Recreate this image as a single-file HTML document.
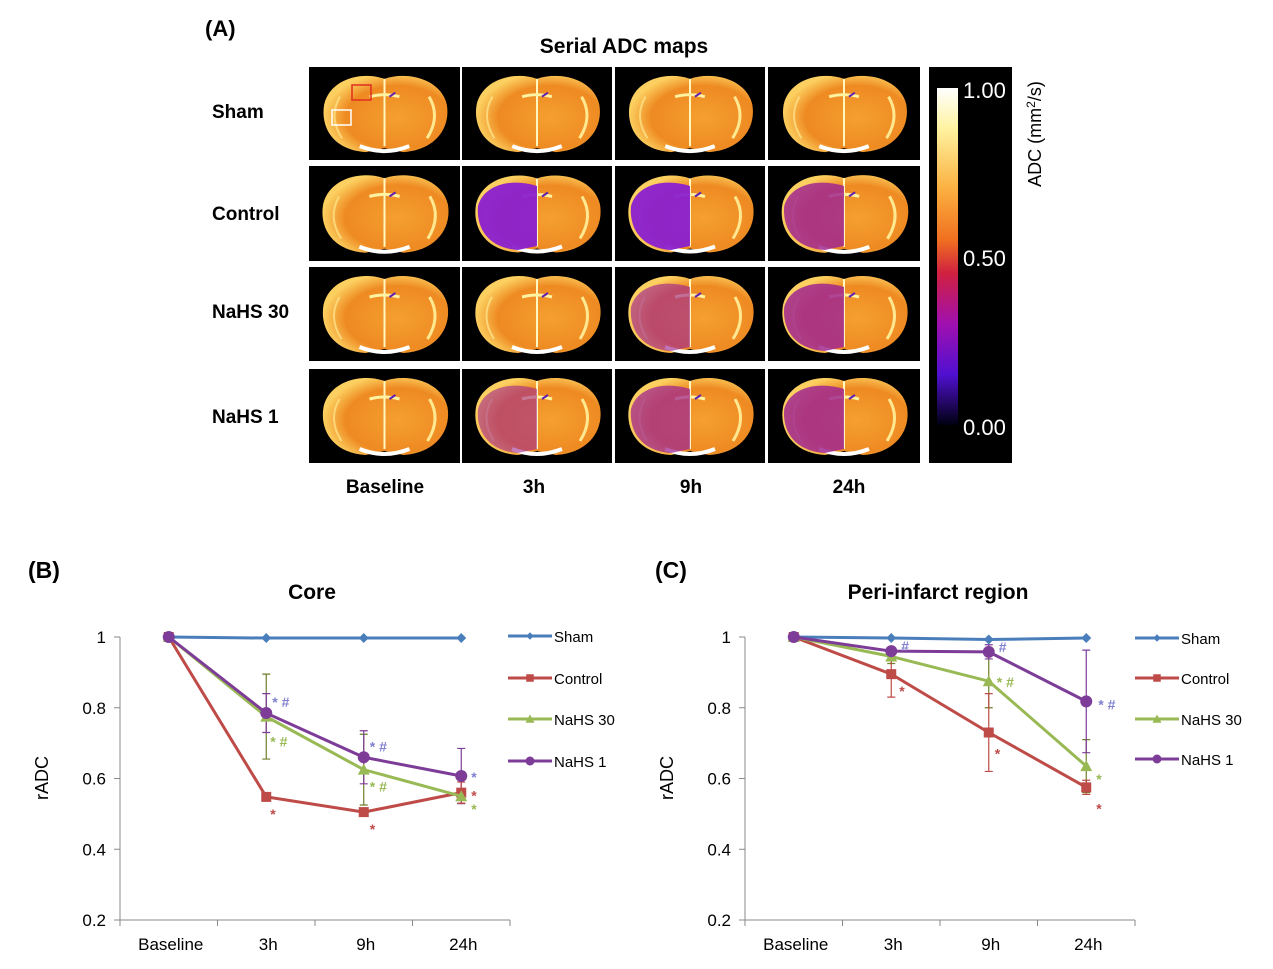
<!DOCTYPE html>
<html><head><meta charset="utf-8"><style>
html,body{margin:0;padding:0;background:#fff;}
svg{display:block;font-family:"Liberation Sans",Arial,sans-serif;}
</style></head><body>
<svg id="root" width="1273" height="969" viewBox="0 0 1273 969" xmlns="http://www.w3.org/2000/svg">
<defs>
<linearGradient id="cbar" x1="0" y1="0" x2="0" y2="1">
<stop offset="0" stop-color="#ffffff"/><stop offset="0.12" stop-color="#fff3a0"/>
<stop offset="0.3" stop-color="#fbb040"/><stop offset="0.45" stop-color="#f07020"/>
<stop offset="0.55" stop-color="#d02040"/><stop offset="0.7" stop-color="#a010b0"/>
<stop offset="0.85" stop-color="#5010d0"/><stop offset="1" stop-color="#000010"/>
</linearGradient>
<radialGradient id="brainfill" cx="0.6" cy="0.55" r="0.6">
<stop offset="0" stop-color="#f5a030"/><stop offset="0.7" stop-color="#ee8a22"/><stop offset="1" stop-color="#fcd060"/>
</radialGradient>
<symbol id="brain" viewBox="0 0 150 94">
<path d="M75,12 C52,4 20,12 14,38 C10,62 24,84 56,86 L75,82 L94,86 C126,84 142,62 138,38 C132,12 98,4 75,12 Z" fill="url(#brainfill)"/>
<rect x="74" y="12" width="2" height="68" fill="#fff7c0"/>
<path d="M60,30 Q75,26 90,30" stroke="#fff2a0" stroke-width="3" fill="none"/>
<path d="M50,80 Q75,90 100,80" stroke="#fff" stroke-width="4" fill="none"/>
<path d="M120,30 Q132,50 118,72" stroke="#ffe890" stroke-width="3" fill="none"/>
<path d="M30,30 Q18,50 32,72" stroke="#ffe890" stroke-width="2" fill="none" opacity="0.7"/>
<path d="M80,30 L86,26" stroke="#6020b0" stroke-width="2"/>
</symbol>
</defs>

<text x="205" y="36" font-size="22" font-weight="bold">(A)</text>
<text x="624" y="53" font-size="21" font-weight="bold" text-anchor="middle">Serial ADC maps</text>
<g id="maps"></g>
<g font-size="19" font-weight="bold">
<text x="212" y="118">Sham</text>
<text x="212" y="220">Control</text>
<text x="212" y="318">NaHS 30</text>
<text x="212" y="423">NaHS 1</text>
</g>
<g font-size="19" font-weight="bold" text-anchor="middle">
<text x="385" y="493">Baseline</text>
<text x="534" y="493">3h</text>
<text x="691" y="493">9h</text>
<text x="849" y="493">24h</text>
</g>
<g>
<rect x="929" y="67" width="83" height="396" fill="#000"/>
<rect x="937" y="88" width="21" height="337" fill="url(#cbar)"/>
<text x="963" y="98" font-size="22" fill="#fff">1.00</text>
<text x="963" y="266" font-size="22" fill="#fff">0.50</text>
<text x="963" y="435" font-size="22" fill="#fff">0.00</text>
</g>
<text transform="translate(1041,134) rotate(-90)" font-size="18" text-anchor="middle">ADC (mm<tspan font-size="12" dy="-6">2</tspan><tspan dy="6">/s)</tspan></text>

<g id="chartB"></g>
<g id="chartC"></g>
</svg>
<script>
const NS="http://www.w3.org/2000/svg";
function mk(parent,tag,attrs,text){const e=document.createElementNS(NS,tag);for(const k in attrs)e.setAttribute(k,attrs[k]);if(text!==undefined)e.textContent=text;parent.appendChild(e);return e;}

// ---- ADC maps ----
const colX=[309,462,615,768], colW=[151,150,150,152];
const rowY=[67,166,267,369], rowH=[93,95,94,94];
// lesion severity per row/col (0 none)
const lesion=[[0,0,0,0],[0,1,1,0.8],[0,0,0.4,0.8],[0,0.3,0.6,0.8]];
const maps=document.getElementById('maps');
for(let r=0;r<4;r++)for(let c=0;c<4;c++){
  const g=mk(maps,'g',{});
  
  
  mk(g,'rect',{x:colX[c],y:rowY[r],width:colW[c],height:rowH[r],fill:'#000'});
  mk(g,'use',{href:'#brain',x:colX[c],y:rowY[r],width:colW[c],height:rowH[r]});
  const L=lesion[r][c];
  if(L>0){
    const s=colW[c]/150;
    mk(g,'path',{d:`M${colX[c]+75*s},${rowY[r]+20} C${colX[c]+50*s},${rowY[r]+12} ${colX[c]+22*s},${rowY[r]+18} ${colX[c]+16*s},${rowY[r]+40} C${colX[c]+14*s},${rowY[r]+62} ${colX[c]+26*s},${rowY[r]+82} ${colX[c]+56*s},${rowY[r]+84} L${colX[c]+75*s},${rowY[r]+80} Z`,
      fill:r===1&&c<3?'#8a20d0':'#a02890',opacity:0.45+0.5*L});
  }
}
// ROI boxes
mk(maps,'rect',{x:352,y:85,width:19,height:15,fill:'none',stroke:'#e03020','stroke-width':1.5});
mk(maps,'rect',{x:332,y:110,width:19,height:15,fill:'none',stroke:'#fff','stroke-width':1.5});

// ---- line charts ----
const categories=['Baseline','3h','9h','24h'];
const yTicks=[0.2,0.4,0.6,0.8,1];
const seriesNames=['Sham','Control','NaHS 30','NaHS 1'];
const colors=['#4a7ebb','#be4b48','#98b954','#7d3c98'];
// Core
const coreSham=[1,0.997,0.997,0.997];
const coreControl=[1,0.548,0.505,0.56];
const coreNaHS30=[1,0.775,0.625,0.55];
const coreNaHS1=[1,0.785,0.66,0.607];
const coreErr30=[0,0.12,0.1,0.02];
const coreErr1=[0,0.055,0.075,0.078];
const coreErrCtl=[0,0.01,0.01,0.03];
// Peri-infarct
const periSham=[1,0.997,0.993,0.997];
const periControl=[1,0.895,0.73,0.575];
const periNaHS30=[1,0.945,0.875,0.635];
const periNaHS1=[1,0.96,0.958,0.818];
const periErr30=[0,0.02,0.075,0.075];
const periErr1=[0,0.01,0.02,0.145];
const periErrCtl=[0,0.065,0.11,0.02];

function drawChart(gid,cfg){
  const g=document.getElementById(gid);
  const x0=cfg.x0,x1=cfg.x1,yTop=637,yBot=920;
  const ys=v=>yBot-(v-0.2)/0.8*(yBot-yTop);
  const bw=(x1-x0)/categories.length;
  const xs=i=>x0+bw*(i+0.5);
  const pl=mk(g,'text',{x:cfg.labX,y:578,'font-size':23,'font-weight':'bold'},cfg.label);
  
  const t=mk(g,'text',{x:cfg.titleX,y:599,'font-size':21,'font-weight':'bold','text-anchor':'middle'},cfg.title);
  
  const yl=mk(g,'text',{transform:`translate(${x0-72},778) rotate(-90)`,'font-size':18,'text-anchor':'middle'},'rADC');
  
  mk(g,'line',{x1:x0,y1:yTop,x2:x0,y2:yBot,stroke:'#888'});
  mk(g,'line',{x1:x0,y1:yBot,x2:x1,y2:yBot,stroke:'#888'});
  yTicks.forEach(v=>{
    mk(g,'line',{x1:x0-6,y1:ys(v),x2:x0,y2:ys(v),stroke:'#888'});
    const tl=mk(g,'text',{x:x0-14,y:ys(v)+6,'font-size':17,'text-anchor':'end'},String(v));
    
  });
  for(let i=0;i<=categories.length;i++)mk(g,'line',{x1:x0+bw*i,y1:yBot,x2:x0+bw*i,y2:yBot+6,stroke:'#888'});
  categories.forEach((c,i)=>{
    const tl=mk(g,'text',{x:xs(i)+2,y:yBot+30,'font-size':17,'text-anchor':'middle'},c);
    
  });
  // error bars
  cfg.errs.forEach(([si,err])=>{
    err.forEach((e,i)=>{ if(!e)return; const v=cfg.data[si][i];
      const eb=mk(g,'path',{d:`M${xs(i)},${ys(v-e)}V${ys(v+e)}M${xs(i)-4},${ys(v-e)}h8M${xs(i)-4},${ys(v+e)}h8`,stroke:colors[si]==='#98b954'?'#6e7e2a':colors[si],'stroke-width':1.2,fill:'none'});
      
    });
  });
  cfg.data.forEach((d,si)=>{
    const sg=mk(g,'g',{});
    
    
    mk(sg,'polyline',{points:d.map((v,i)=>xs(i)+','+ys(v)).join(' '),fill:'none',stroke:colors[si],'stroke-width':3});
    d.forEach((v,i)=>marker(sg,si,xs(i),ys(v)));
    // legend
    const ly=cfg.legY[si];
    const lg=mk(g,'g',{});
    
    mk(lg,'line',{x1:cfg.legX,y1:ly,x2:cfg.legX+44,y2:ly,stroke:colors[si],'stroke-width':3});
    marker(lg,si,cfg.legX+22,ly,0.75);
    mk(lg,'text',{x:cfg.legX+46,y:ly+6,'font-size':15},seriesNames[si]);
  });
  cfg.notes.forEach(([si,i,dx,dy,txt])=>{
    const n=mk(g,'text',{x:xs(i)+dx,y:ys(cfg.data[si][i])+dy,'font-size':14,'font-weight':'bold',fill:colors[si]===colors[3]?'#8080d0':colors[si]},txt);
    
  });
}
function marker(g,si,x,y,s=1){
  const c=colors[si];
  if(si===0)mk(g,'path',{d:`M${x},${y-5*s}L${x+5*s},${y}L${x},${y+5*s}L${x-5*s},${y}Z`,fill:c});
  else if(si===1)mk(g,'rect',{x:x-5*s,y:y-5*s,width:10*s,height:10*s,fill:c});
  else if(si===2)mk(g,'path',{d:`M${x},${y-6*s}L${x+6*s},${y+5*s}L${x-6*s},${y+5*s}Z`,fill:c});
  else mk(g,'circle',{cx:x,cy:y,r:6*s,fill:c});
}
drawChart('chartB',{x0:120,x1:510,label:'(B)',labX:28,title:'Core',titleX:312,
  data:[coreSham,coreControl,coreNaHS30,coreNaHS1],
  errs:[[2,coreErr30],[3,coreErr1],[1,coreErrCtl]],
  legX:508,legY:[636,678,719,761],
  notes:[[3,1,6,-6,'* #'],[2,1,4,30,'* #'],[1,1,4,22,'*'],[3,2,6,-6,'* #'],[2,2,6,22,'* #'],[1,2,6,22,'*'],[3,3,10,6,'*'],[1,3,10,8,'*'],[2,3,10,18,'*']]});
drawChart('chartC',{x0:745,x1:1135,label:'(C)',labX:655,title:'Peri-infarct region',titleX:938,
  data:[periSham,periControl,periNaHS30,periNaHS1],
  errs:[[2,periErr30],[3,periErr1],[1,periErrCtl]],
  legX:1135,legY:[638,678,719,759],
  notes:[[3,1,10,0,'#'],[1,1,8,22,'*'],[3,2,10,0,'#'],[2,2,8,6,'* #'],[1,2,6,26,'*'],[3,3,12,8,'* #'],[2,3,10,18,'*'],[1,3,10,26,'*']]});
</script>
</body></html>
